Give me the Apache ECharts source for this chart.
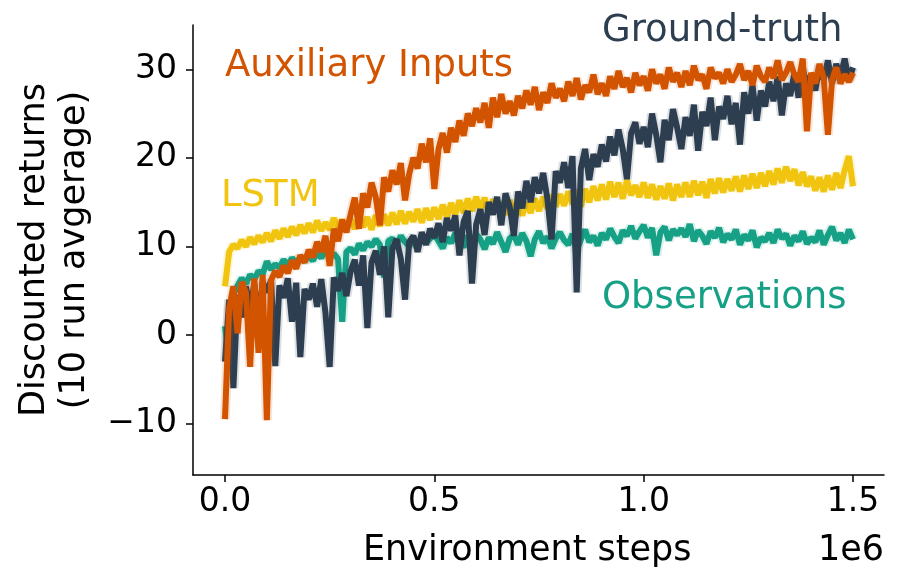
<!DOCTYPE html>
<html>
<head>
<meta charset="utf-8">
<script src="https://cdn.jsdelivr.net/npm/echarts@6/dist/echarts.min.js"></script>
<style>
  html, body { margin: 0; padding: 0; background: #fff; }
  #chart { width: 899px; height: 585px; }
</style>
</head>
<body>
<div id="chart"></div>
<script>
// 每隔 1e4 步记录一次 (0 ~ 1.5e6)
var stepSize = 10000;
var xTicks = [0, 500000, 1000000, 1500000];
var yTicks = [-10, 0, 10, 20, 30];

var seriesNames = ['Observations', 'LSTM', 'Ground-truth', 'Auxiliary Inputs'];
var colors = ['#16A085', '#F1C40F', '#2C3E50', '#D35400'];

var observations = [
  1.0, -2.5, 4.5, 5.6, 6.4, 5.8, 6.8, 6.3, 7.2, 6.9,
  8.3, 7.4, 8.0, 7.6, 8.5, 7.9, 8.7, 8.1, 8.8, 8.3,
  8.9, 8.4, 9.3, 8.7, 9.6, 8.8, 9.2, 8.6, 1.5, 9.4,
  9.8, 9.1, 10.3, 9.6, 10.5, 10.0, 10.8, 10.2, 6.5, 10.6,
  10.9, 10.3, 11.2, 10.5, 10.0, 10.8, 10.2, 11.0, 10.4, 10.9,
  11.3, 10.6, 9.8, 11.0, 10.4, 11.5, 10.7, 9.9, 11.2, 10.6,
  11.4, 10.8, 9.7, 11.0, 10.3, 11.6, 10.5, 9.4, 10.9, 11.3,
  10.2, 11.5, 10.6, 8.9, 10.8, 11.7, 10.4, 11.1, 9.8, 10.9,
  11.6, 10.7, 10.2, 11.4, 9.5, 10.8, 11.9, 10.5, 11.2, 10.1,
  11.5, 10.8, 12.0, 11.1, 10.4, 11.8, 11.2, 12.3, 10.9, 11.7,
  12.4, 11.0, 12.1, 9.0, 11.6, 12.2, 10.7, 11.9, 11.3, 12.0,
  11.1, 12.5, 10.6, 11.8, 11.2, 10.3, 11.7, 11.0, 12.1, 10.5,
  11.4, 10.8, 11.9, 10.2, 11.3, 10.7, 11.8, 9.9, 11.0, 10.6,
  11.5, 10.4, 11.9, 10.9, 11.4, 10.1, 11.2, 10.6, 11.7, 10.3,
  11.0, 10.5, 11.8, 10.2, 11.3, 12.2, 10.7, 11.5, 10.4, 11.9,
  10.8
];

var lstm = [
  5.5, 9.4, 10.2, 9.8, 10.7, 10.0, 11.0, 10.3, 11.2, 10.5,
  11.5, 10.6, 11.8, 10.9, 12.0, 11.1, 12.2, 11.3, 12.4, 11.5,
  12.6, 11.6, 12.9, 11.8, 12.7, 11.9, 13.2, 12.0, 13.0, 12.1,
  13.1, 12.0, 13.4, 12.2, 13.3, 11.9, 13.5, 12.3, 13.6, 12.4,
  13.8, 12.5, 14.0, 12.6, 13.9, 12.8, 14.2, 12.7, 14.3, 13.0,
  14.4, 13.1, 14.7, 13.3, 14.9, 13.6, 15.2, 13.8, 15.4, 14.0,
  15.6, 14.1, 15.5, 13.8, 15.3, 14.2, 15.0, 13.6, 15.2, 13.9,
  14.8, 13.5, 15.0, 13.8, 15.4, 14.0, 15.6, 14.3, 15.8, 14.5,
  15.9, 14.6, 16.2, 14.8, 16.4, 14.5, 16.5, 15.0, 16.8, 15.2,
  17.0, 15.3, 17.3, 15.6, 17.2, 15.4, 17.5, 15.8, 16.9, 15.6,
  17.2, 15.5, 17.0, 15.3, 16.8, 15.4, 17.1, 15.2, 17.0, 15.6,
  17.2, 15.6, 17.4, 15.8, 17.3, 15.5, 17.6, 16.0, 17.7, 16.1,
  17.6, 16.3, 17.9, 16.2, 18.0, 16.5, 18.2, 16.6, 18.3, 16.8,
  18.5, 17.0, 18.8, 17.2, 19.0, 17.4, 18.7, 16.9, 18.4, 16.8,
  17.9, 16.3, 17.8, 16.2, 18.0, 16.4, 18.3, 16.6, 18.6, 20.2,
  16.8
];

var groundTruth = [
  -3.0, 4.0, -6.0, 4.5, 2.0, 5.5, 3.0, 5.8, 1.5, 6.0,
  4.8, 6.2, -3.5, 5.6, 4.2, 6.4, 1.5, 5.9, -2.5, 5.2,
  4.0, 5.8, 3.2, 6.3, 2.5, -3.6, 6.5, 5.0, 7.0, 4.4,
  7.2, 8.5, 5.6, 9.0, 0.8, 8.2, 9.5, 6.8, 10.0, 2.0,
  9.8, 10.8, 8.6, 4.0, 10.5, 11.2, 9.4, 11.6, 10.2, 12.0,
  11.0, 12.6, 10.5, 13.2, 11.8, 13.5, 9.0, 12.8, 14.0, 5.8,
  12.5, 14.2, 11.3, 15.0, 13.6, 15.6, 12.4, 16.0, 14.5, 11.2,
  16.2, 14.3, 17.4, 15.0, 17.8, 16.0, 18.3, 15.4, 10.8, 18.5,
  17.2, 19.5, 16.6, 20.2, 4.8, 18.8, 21.0, 17.5, 20.4, 19.0,
  21.5, 19.6, 22.4, 20.3, 23.2, 21.0, 17.6, 22.8, 24.0, 21.6,
  23.5, 21.2, 25.0, 22.6, 19.5, 24.3, 22.0, 25.5, 23.4, 21.0,
  24.6, 22.5, 26.0, 20.8, 25.2, 23.6, 26.8, 22.0, 25.8, 24.4,
  27.0, 23.8, 26.2, 21.5, 27.4, 25.0, 28.2, 24.2, 27.6, 25.8,
  28.6, 26.4, 29.2, 24.8, 28.4, 27.0, 29.6, 26.8, 30.0, 28.2,
  29.4, 27.6, 30.4, 28.8, 31.0, 28.4, 30.6, 29.2, 31.2, 28.8,
  30.2
];

var auxiliaryInputs = [
  -9.5, 3.0, 5.5, 0.2, 6.0, 4.8, -3.6, 6.4, -2.0, 6.8,
  -9.6, 6.2, 7.2, 6.6, 7.8, 7.0, 8.4, 7.5, 9.0, 8.2,
  9.6, 8.8, 10.5, 9.4, 11.2, 7.8, 12.0, 10.6, 13.0, 11.6,
  13.6, 15.5, 12.0, 16.0, 14.4, 17.2, 15.6, 12.4, 17.8, 16.2,
  18.6, 17.0, 19.4, 15.2, 18.2, 20.0, 18.8, 21.6, 19.5, 22.2,
  16.5, 21.0, 22.8, 20.6, 23.4, 21.8, 24.2, 22.5, 25.0, 23.6,
  25.6, 24.0, 26.2, 23.4, 26.8, 24.6, 27.2, 25.0, 26.4, 24.8,
  27.0, 25.6, 27.6, 26.0, 28.0, 25.4, 27.4, 26.2, 28.4, 26.8,
  27.8, 26.4, 28.6, 27.0, 29.0, 26.6, 28.2, 27.4, 29.4, 27.2,
  28.4, 27.0, 29.2, 27.8, 29.8, 28.0, 29.0, 27.4, 29.6, 28.2,
  29.2, 27.6, 30.0, 28.4, 29.4, 27.8, 30.2, 28.6, 29.6, 28.0,
  29.8, 28.2, 30.4, 28.8, 29.4, 27.8, 30.2, 29.0, 29.6, 28.4,
  30.0, 28.6, 29.4, 30.6, 28.8, 29.8, 28.2, 30.4, 29.2, 28.6,
  30.2, 29.0, 31.0, 28.8, 29.6, 30.8, 29.4, 28.6, 31.2, 23.0,
  29.6, 28.4, 30.6, 29.0, 22.6, 28.8, 30.2, 28.4, 29.4, 28.6,
  29.6
];

var allValues = [observations, lstm, groundTruth, auxiliaryInputs];

var font = 'DejaVu Sans';

function toPairs(values) {
  var out = [];
  for (var i = 0; i < values.length; i++) {
    out.push([i * stepSize, values[i]]);
  }
  return out;
}

var series = [];
for (var i = 0; i < seriesNames.length; i++) {
  var pts = toPairs(allValues[i]);
  // 浅色的宽线当作误差带
  series.push({
    name: seriesNames[i] + ' band',
    type: 'line',
    data: pts,
    showSymbol: false,
    silent: true,
    lineStyle: { color: colors[i], width: 10, opacity: 0.16, join: 'bevel' }
  });
  series.push({
    name: seriesNames[i],
    type: 'line',
    data: pts,
    showSymbol: false,
    lineStyle: { color: colors[i], width: 6, join: 'bevel' }
  });
}

var option = {
  animation: false,
  backgroundColor: '#fff',
  grid: { left: 193, right: 15, top: 25, bottom: 110 },
  xAxis: {
    type: 'value',
    min: -76400,
    max: 1574000,
    splitLine: { show: false },
    axisLine: { onZero: false, lineStyle: { color: '#000', width: 1.5 } },
    axisTick: { customValues: xTicks, length: 7, lineStyle: { color: '#000', width: 1.5 } },
    axisLabel: {
      customValues: xTicks,
      margin: 11,
      color: '#000',
      fontFamily: font,
      fontSize: 33,
      formatter: function (v) { return (v / 1e6).toFixed(1); }
    }
  },
  yAxis: {
    type: 'value',
    min: -15.8,
    max: 35,
    splitLine: { show: false },
    axisLine: { onZero: false, lineStyle: { color: '#000', width: 1.5 } },
    axisTick: { customValues: yTicks, length: 7, lineStyle: { color: '#000', width: 1.5 } },
    axisLabel: {
      customValues: yTicks,
      margin: 16,
      color: '#000',
      fontFamily: font,
      fontSize: 33,
      formatter: function (v) { return v < 0 ? '\u2212' + Math.abs(v) : String(v); }
    }
  },
  graphic: [
    { type: 'text', left: 363, top: 533, style: { text: 'Environment steps', fill: '#000', font: '35px "DejaVu Sans"' } },
    { type: 'text', right: 15, top: 533, style: { text: '1e6', fill: '#000', font: '35px "DejaVu Sans"' } },
    { type: 'text', x: 35, y: 250, rotation: Math.PI / 2,
      style: { text: 'Discounted returns', fill: '#000', font: '35px "DejaVu Sans"', align: 'center', verticalAlign: 'middle' } },
    { type: 'text', x: 75, y: 250, rotation: Math.PI / 2,
      style: { text: '(10 run avgerage)', fill: '#000', font: '35px "DejaVu Sans"', align: 'center', verticalAlign: 'middle' } },
    { type: 'text', left: 225, top: 48, style: { text: 'Auxiliary Inputs', fill: '#D35400', font: '37px "DejaVu Sans"' } },
    { type: 'text', left: 602, top: 13, style: { text: 'Ground-truth', fill: '#2C3E50', font: '37px "DejaVu Sans"' } },
    { type: 'text', left: 221, top: 178, style: { text: 'LSTM', fill: '#F1C40F', font: '37px "DejaVu Sans"' } },
    { type: 'text', left: 602, top: 280, style: { text: 'Observations', fill: '#16A085', font: '37px "DejaVu Sans"' } }
  ],
  series: series
};

var myChart = echarts.init(document.getElementById('chart'));
myChart.setOption(option);
</script>
</body>
</html>
